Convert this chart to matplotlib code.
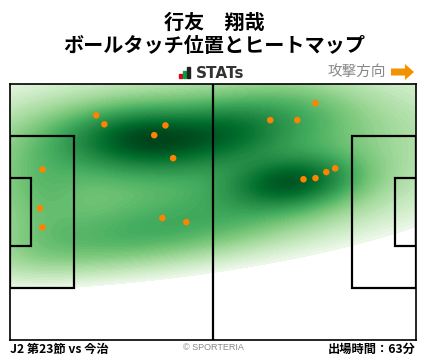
import numpy as np
import matplotlib
matplotlib.use("Agg")
import matplotlib.pyplot as plt
from matplotlib.patches import Rectangle, FancyArrow
from matplotlib.colors import PowerNorm

plt.rcParams['font.family'] = ['Noto Sans CJK JP', 'DejaVu Sans']

# ボールタッチ位置 (m, 攻撃方向は右, y=0 が下)
touch_x = [22.3, 24.4, 40.2, 37.3, 42.2, 8.4, 7.8, 8.4, 39.4, 45.6,
           79.0, 67.3, 74.3, 84.1, 81.8, 79.0, 75.9]
touch_y = [59.7, 57.3, 57.0, 54.4, 48.3, 45.3, 35.0, 29.9, 32.4, 31.3,
           62.9, 58.4, 58.4, 45.6, 44.6, 43.0, 42.7]

# ヒートマップの山 (中心, 広がり, 傾き, 重み) - 画像から読み取り
heat_x = [48.0, 35.0, 36.0, 58.0, 73.0, 72.0, 8.0]
heat_y = [49.0, 28.0, 53.5, 56.0, 42.0, 60.0, 38.0]
heat_sx = [50.0, 30.0, 15.0, 9.0, 11.0, 12.0, 8.0]
heat_sy = [16.0, 6.0, 5.5, 5.0, 4.5, 6.0, 10.0]
heat_ang = [4.0, 9.0, 0.0, 0.0, 6.0, 0.0, 0.0]
heat_w = [0.5, 0.35, 0.7, 0.22, 0.62, 0.2, 0.15]

title1 = "行友　翔哉"
title2 = "ボールタッチ位置とヒートマップ"
match_label = "J2 第23節 vs 今治"
minutes_label = "出場時間：63分"

fig = plt.figure(figsize=(4.28, 3.59), dpi=100)
W, H = 428, 359
ax = fig.add_axes([10 / W, (H - 340) / H, 406 / W, 256 / H])
ax.set_xlim(0, 105)
ax.set_ylim(0, 68)
ax.set_xticks([])
ax.set_yticks([])
for s in ax.spines.values():
    s.set_linewidth(1.2)

gx, gy = np.meshgrid(np.linspace(0, 105, 300), np.linspace(0, 68, 200))
dens = np.zeros_like(gx)
for cx, cy, sx, sy, a, w in zip(heat_x, heat_y, heat_sx, heat_sy, heat_ang, heat_w):
    t = np.deg2rad(a)
    u = (gx - cx) * np.cos(t) + (gy - cy) * np.sin(t)
    v = -(gx - cx) * np.sin(t) + (gy - cy) * np.cos(t)
    dens += w * np.exp(-(u ** 2 / (2 * sx ** 2) + v ** 2 / (2 * sy ** 2)))
dens = dens / dens.max()
levels = np.linspace(0.09, 1.0, 80)
ax.contourf(gx, gy, dens, levels=levels, cmap="Greens",
            norm=PowerNorm(0.6, vmin=0.08, vmax=1.0), zorder=1)

lw = 1.6
ax.axvline(52.5, color="black", lw=lw, zorder=2)
for x0, w in [(0, 16.5), (105 - 16.5, 16.5)]:
    ax.add_patch(Rectangle((x0, 13.84), w, 40.32, fill=False, ec="black", lw=lw, zorder=2))
for x0, w in [(0, 5.5), (105 - 5.5, 5.5)]:
    ax.add_patch(Rectangle((x0, 24.84), w, 18.32, fill=False, ec="black", lw=lw, zorder=2))

ax.scatter(touch_x, touch_y, s=22, color="#ff8200", edgecolors="none", zorder=3)

fig.text(214 / W, 1 - 22 / H, title1, ha="center", va="center", fontsize=14.5, fontweight="bold")
fig.text(214 / W, 1 - 46 / H, title2, ha="center", va="center", fontsize=14.5, fontweight="bold")

# STATs ロゴ
for i, (c, h) in enumerate([("#e60012", 4), ("#00a040", 7), ("#222222", 11)]):
    fig.patches.append(Rectangle(((179 + i * 4) / W, (H - 78) / H), 3 / W, h / H,
                                 transform=fig.transFigure, color=c))
fig.text(196 / W, 1 - 73 / H, "STATs", ha="left", va="center", fontsize=11,
         fontweight="bold", color="#333333", family=["DejaVu Sans"])

fig.text(386 / W, 1 - 72 / H, "攻撃方向", ha="right", va="center", fontsize=10.5, color="#888888")
fig.patches.append(FancyArrow(391 / W, 1 - 72 / H, 14 / W, 0, width=7 / H,
                              head_width=16 / H, head_length=9 / W,
                              length_includes_head=False, transform=fig.transFigure,
                              color="#f39200", lw=0))

fig.text(10 / W, 1 - 349 / H, match_label, ha="left", va="center", fontsize=8.8, fontweight="bold")
fig.text(213 / W, 1 - 348 / H, "© SPORTERIA", ha="center", va="center", fontsize=6.5,
         color="#888888", family=["Liberation Sans", "DejaVu Sans"])
fig.text(416 / W, 1 - 349 / H, minutes_label, ha="right", va="center", fontsize=8.8, fontweight="bold")

fig.savefig("out.png", dpi=100)
